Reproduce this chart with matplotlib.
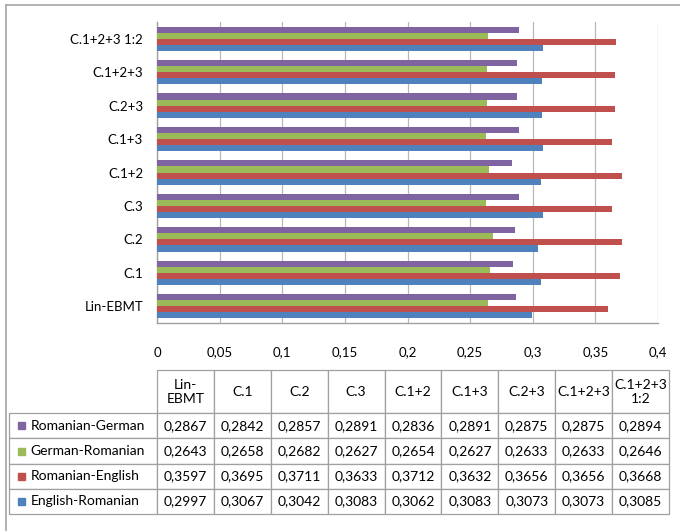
import matplotlib
matplotlib.use("Agg")
import matplotlib.pyplot as plt
import numpy as np
from matplotlib.lines import Line2D
from matplotlib.patches import Rectangle
from matplotlib.ticker import FuncFormatter

plt.rcParams["font.family"] = ["Lato", "DejaVu Sans"]

# data
categories = ["Lin-EBMT", "C.1", "C.2", "C.3", "C.1+2", "C.1+3", "C.2+3", "C.1+2+3", "C.1+2+3 1:2"]
col_labels = ["Lin-\nEBMT", "C.1", "C.2", "C.3", "C.1+2", "C.1+3", "C.2+3", "C.1+2+3", "C.1+2+3\n1:2"]
series_names = ["Romanian-German", "German-Romanian", "Romanian-English", "English-Romanian"]
ro_de = [0.2867, 0.2842, 0.2857, 0.2891, 0.2836, 0.2891, 0.2875, 0.2875, 0.2894]
de_ro = [0.2643, 0.2658, 0.2682, 0.2627, 0.2654, 0.2627, 0.2633, 0.2633, 0.2646]
ro_en = [0.3597, 0.3695, 0.3711, 0.3633, 0.3712, 0.3632, 0.3656, 0.3656, 0.3668]
en_ro = [0.2997, 0.3067, 0.3042, 0.3083, 0.3062, 0.3083, 0.3073, 0.3073, 0.3085]
series = [ro_de, de_ro, ro_en, en_ro]
colors = ["#8064A2", "#9BBB59", "#C0504D", "#4F81BD"]

W, H = 680, 531
fig = plt.figure(figsize=(W / 100, H / 100), dpi=100)

# chart outer border (only top and left visible)
fig.add_artist(Line2D([6 / W, 6 / W], [0, 1 - 5 / H], color="#a6a6a6", lw=1.2))
fig.add_artist(Line2D([6 / W, 1], [1 - 5 / H, 1 - 5 / H], color="#a6a6a6", lw=1.2))

ax = fig.add_axes([157 / W, 1 - 323 / H, (658 - 157) / W, (323 - 22) / H])
y = np.arange(len(categories))
h = 1 / 5.5
offsets = [1.5 * h, 0.5 * h, -0.5 * h, -1.5 * h]
for vals, c, off in zip(series, colors, offsets):
    ax.barh(y + off, vals, height=h, color=c, zorder=3)

ax.set_xlim(0, 0.4)
ax.set_ylim(-0.5, len(categories) - 0.5)
ax.set_xticks(np.arange(0, 0.401, 0.05))
ax.xaxis.set_major_formatter(FuncFormatter(lambda v, p: ("%g" % round(v, 2)).replace(".", ",")))
ax.set_yticks(y)
ax.set_yticklabels(categories)
ax.tick_params(axis="both", length=0, labelsize=9.5, colors="#000000")
ax.tick_params(axis="x", pad=17)
ax.tick_params(axis="y", pad=10)
ax.grid(axis="x", color="#b8b8b8", lw=0.9, zorder=0)
for s in ["top", "right"]:
    ax.spines[s].set_visible(False)
for s in ["left", "bottom"]:
    ax.spines[s].set_color("#a0a0a0")
    ax.spines[s].set_linewidth(1.0)

# data table (bbox covers only the value columns; row labels sit to the left)
tx0, tx1, ty0, ty1 = 22, 669, 370, 514
ax_t = fig.add_axes([tx0 / W, 1 - ty1 / H, (tx1 - tx0) / W, (ty1 - ty0) / H])
ax_t.axis("off")
cell_text = [[("%.4f" % v).replace(".", ",") for v in s] for s in series]
tbl = ax_t.table(cellText=cell_text, rowLabels=series_names, colLabels=col_labels,
                 cellLoc="center", rowLoc="left",
                 bbox=[(157 - tx0) / (tx1 - tx0), 0, (tx1 - 157) / (tx1 - tx0), 1])
tbl.auto_set_font_size(False)
tbl.set_fontsize(10)
for (r, c), cell in tbl.get_celld().items():
    cell.set_edgecolor("#a0a0a0")
    cell.set_linewidth(0.9)
    cell.set_width(135 if c == -1 else 57)
    cell.set_height(43 if r == 0 else 25)
    if c == -1:
        cell.PAD = 0.145

fig.canvas.draw()
cells = tbl.get_celld()
for i, c in enumerate(colors):
    cell = cells[(i + 1, -1)]
    bx = cell.get_x() + 9 / (tx1 - tx0)
    by = cell.get_y() + cell.get_height() / 2 - 3.5 / (ty1 - ty0)
    ax_t.add_patch(Rectangle((bx, by), 7 / (tx1 - tx0), 7 / (ty1 - ty0), color=c,
                             transform=ax_t.transAxes, clip_on=False, zorder=5))

fig.savefig("out.png", dpi=100)
